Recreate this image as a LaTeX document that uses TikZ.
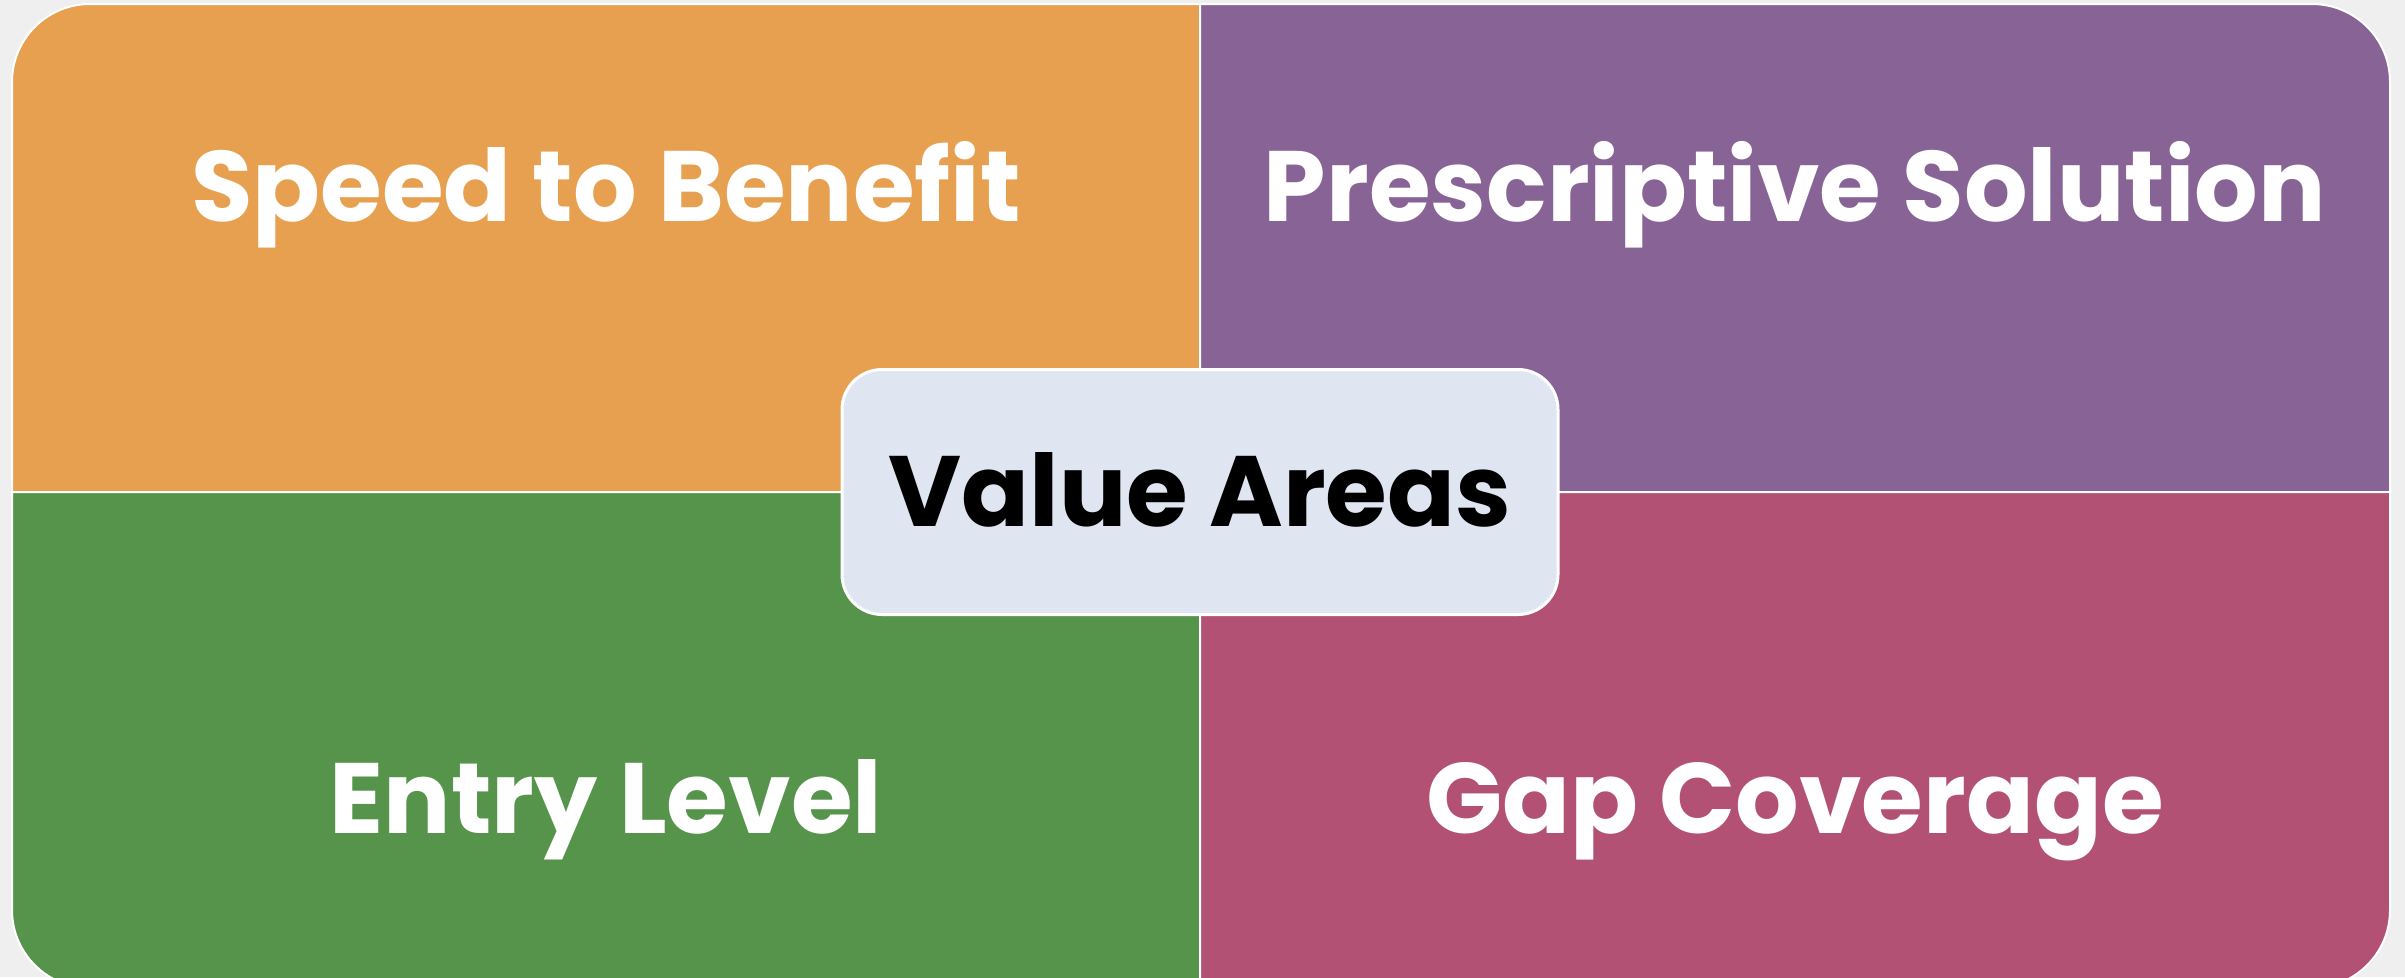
\documentclass[tikz,border=0pt]{standalone}
\usepackage{fontspec}
\setmainfont{Poppins}
\definecolor{bgc}{HTML}{EFEFEF}
\definecolor{orangec}{HTML}{E6A050}
\definecolor{purplec}{HTML}{886496}
\definecolor{greenc}{HTML}{56944C}
\definecolor{pinkc}{HTML}{B35174}
\definecolor{centerc}{HTML}{DFE6F2}
\tikzset{
  quad/.style={draw=white, line width=2pt},
  lbl/.style={anchor=base, text=white, font=\fontsize{100}{120}\selectfont\bfseries, inner sep=0pt},
  clbl/.style={anchor=base, text=black, font=\fontsize{100}{120}\selectfont\bfseries, inner sep=0pt},
}
\begin{document}
\begin{tikzpicture}[x=1pt,y=-1pt]
\useasboundingbox (0,0) rectangle (2405,977);
\clip (0,0) rectangle (2405,977);
\fill[bgc] (0,0) rectangle (2405,977);
% quadrants
\draw[quad, fill=orangec] (12,492) -- (12,82) arc[start angle=180, end angle=270, radius=78] -- (1200,4) -- (1200,492) -- cycle;
\draw[quad, fill=purplec] (1200,4) -- (2312,4) arc[start angle=-90, end angle=0, radius=78] -- (2390,492) -- (1200,492) -- cycle;
\draw[quad, fill=greenc] (12,492) -- (1200,492) -- (1200,988) -- (90,988) arc[start angle=90, end angle=180, radius=78] -- cycle;
\draw[quad, fill=pinkc] (1200,492) -- (2390,492) -- (2390,910) arc[start angle=0, end angle=90, radius=78] -- (1200,988) -- cycle;
% center box
\node[draw=white, line width=3pt, fill=centerc, rounded corners=40pt, minimum width=716pt, minimum height=245pt, inner sep=0pt] (center) at (1200,492) {};
% labels
\node[lbl] (speed) at (606,221) {Speed to Benefit};
\node[lbl] (presc) at (1795,221) {Prescriptive Solution};
\node[lbl] (entry) at (606,833) {Entry Level};
\node[lbl] (gap) at (1795,833) {Gap Coverage};
\node[clbl] (value) at (1200,526) {Value Areas};
\end{tikzpicture}
\end{document}
